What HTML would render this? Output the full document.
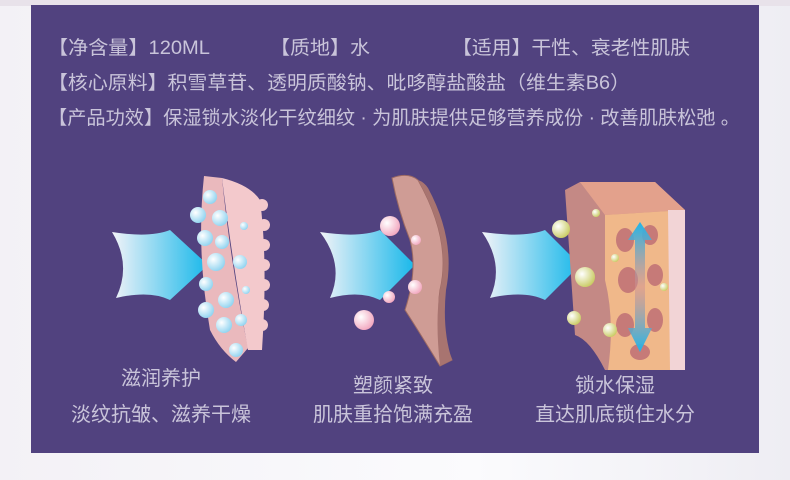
<!DOCTYPE html>
<html><head><meta charset="utf-8"><style>
html,body{margin:0;padding:0;}
body{width:790px;height:480px;overflow:hidden;background:linear-gradient(90deg,#f3f1f6,#fbfbfd 60%,#eeedf3);font-family:"Liberation Sans","Noto Sans CJK SC",sans-serif;}
svg{display:block}
</style></head><body>
<svg width="790" height="480" viewBox="0 0 790 480" xmlns="http://www.w3.org/2000/svg">
<defs>
<linearGradient id="ar" x1="0" x2="1" y1="0" y2="0"><stop offset="0" stop-color="#f2f3f8"/><stop offset="1" stop-color="#18b8ea"/></linearGradient>
<radialGradient id="bb" cx="0.35" cy="0.35" r="0.7"><stop offset="0" stop-color="#fff"/><stop offset="1" stop-color="#8fd3f0"/></radialGradient>
<radialGradient id="pb" cx="0.35" cy="0.35" r="0.7"><stop offset="0" stop-color="#fff"/><stop offset="1" stop-color="#f2a6be"/></radialGradient>
<radialGradient id="yb" cx="0.35" cy="0.35" r="0.7"><stop offset="0" stop-color="#fff"/><stop offset="1" stop-color="#c9cb62"/></radialGradient>
<linearGradient id="va" x1="0" x2="0" y1="0" y2="1"><stop offset="0" stop-color="#1fb6ea"/><stop offset="0.5" stop-color="#d09090" stop-opacity="0.5"/><stop offset="1" stop-color="#1fb6ea"/></linearGradient>
</defs>
<rect x="0" y="0" width="790" height="6" fill="#e8e2ea"/>
<rect x="31" y="5" width="728" height="448" fill="#51427f"/>
<g fill="#c9c4da" font-size="19">
<text x="48" y="54" textLength="162" lengthAdjust="spacingAndGlyphs">【净含量】120ML</text>
<text x="270" y="54" textLength="100" lengthAdjust="spacingAndGlyphs">【质地】水</text>
<text x="452" y="54" textLength="238" lengthAdjust="spacingAndGlyphs">【适用】干性、衰老性肌肤</text>
<text x="48" y="89" textLength="582" lengthAdjust="spacingAndGlyphs">【核心原料】积雪草苷、透明质酸钠、吡哆醇盐酸盐（维生素B6）</text>
<text x="48" y="124" textLength="692" lengthAdjust="spacingAndGlyphs">【产品功效】保湿锁水淡化干纹细纹 · 为肌肤提供足够营养成份 · 改善肌肤松弛 。</text>
</g>
<!-- panel 1 -->
<path d="M112 232 Q150 238 170 230 L208 265 L170 300 Q150 290 116 298 Q132 265 112 232Z" fill="url(#ar)"/>
<path d="M204 176 L222 178 Q230 260 248 348 L236 362 Q220 350 210 330 Q196 250 204 176Z" fill="#eab9bd"/>
<path d="M222 178 Q250 185 260 200 Q268 260 262 350 L248 350 Q232 260 222 178Z" fill="#f3c9cc"/>
<g fill="#f3c9cc"><circle cx="262" cy="205" r="6"/><circle cx="264" cy="225" r="6"/><circle cx="264" cy="245" r="6"/><circle cx="264" cy="265" r="6"/><circle cx="264" cy="285" r="6"/><circle cx="263" cy="305" r="6"/><circle cx="262" cy="325" r="6"/></g>
<g fill="url(#bb)"><circle cx="210" cy="197" r="7"/><circle cx="198" cy="215" r="8"/><circle cx="220" cy="218" r="8"/><circle cx="205" cy="238" r="8"/><circle cx="222" cy="242" r="7"/><circle cx="216" cy="262" r="9"/><circle cx="240" cy="262" r="7"/><circle cx="206" cy="284" r="7"/><circle cx="226" cy="300" r="8"/><circle cx="206" cy="310" r="8"/><circle cx="224" cy="325" r="8"/><circle cx="241" cy="320" r="6"/><circle cx="236" cy="350" r="7"/><circle cx="244" cy="226" r="4"/><circle cx="246" cy="290" r="4"/></g>
<!-- panel 2 -->
<path d="M320 232 Q360 238 380 230 L415 265 L380 300 Q360 290 330 298 Q345 265 320 232Z" fill="url(#ar)"/>
<path d="M392 178 Q408 172 418 180 Q452 240 440 290 Q435 320 452 360 L440 366 Q418 330 405 310 Q418 270 410 240 Q398 210 392 178Z" fill="#cf9c95" stroke="#9c6a64" stroke-width="1"/>
<path d="M418 180 Q424 182 428 188 Q456 240 446 290 Q442 330 452 360 L440 366 Q435 320 440 290 Q452 240 418 180Z" fill="#a87470"/>
<g fill="url(#pb)"><circle cx="390" cy="226" r="10"/><circle cx="416" cy="240" r="5"/><circle cx="415" cy="287" r="7"/><circle cx="389" cy="297" r="6"/><circle cx="364" cy="320" r="10"/></g>
<!-- panel 3 -->
<path d="M482 232 Q525 238 545 230 L580 265 L545 300 Q525 290 490 298 Q505 265 482 232Z" fill="url(#ar)"/>
<path d="M565 190 L580 182 L655 182 L685 210 L685 370 L605 370 Q590 340 575 335 Q570 260 565 190Z" fill="#c48985"/>
<path d="M580 182 L655 182 L685 210 L605 215Z" fill="#e3a18c"/>
<path d="M605 215 L685 210 L685 370 L608 370 Q615 320 605 280Z" fill="#f0b88a"/>
<path d="M668 210 L685 210 L685 370 L670 370Z" fill="#f2d4d6"/>
<g fill="#c67a78"><ellipse cx="625" cy="240" rx="9" ry="12"/><ellipse cx="650" cy="235" rx="8" ry="10"/><ellipse cx="628" cy="280" rx="10" ry="13"/><ellipse cx="655" cy="275" rx="8" ry="11"/><ellipse cx="625" cy="325" rx="9" ry="12"/><ellipse cx="655" cy="320" rx="8" ry="12"/><ellipse cx="640" cy="352" rx="10" ry="8"/></g>
<path d="M640 222 L652 240 L645 240 L645 328 L652 328 L640 352 L628 328 L635 328 L635 240 L628 240Z" fill="url(#va)"/>
<g fill="url(#yb)"><circle cx="561" cy="229" r="9"/><circle cx="585" cy="277" r="10"/><circle cx="574" cy="318" r="7"/><circle cx="610" cy="330" r="7"/><circle cx="596" cy="213" r="4"/><circle cx="615" cy="258" r="4"/><circle cx="664" cy="287" r="4"/></g>
<g fill="#c9c4da" font-size="20" text-anchor="middle">
<text x="161" y="385">滋润养护</text>
<text x="161" y="421" textLength="180" lengthAdjust="spacingAndGlyphs">淡纹抗皱、滋养干燥</text>
<text x="393" y="392">塑颜紧致</text>
<text x="393" y="421">肌肤重拾饱满充盈</text>
<text x="615" y="392">锁水保湿</text>
<text x="615" y="421">直达肌底锁住水分</text>
</g>
</svg>
</body></html>
